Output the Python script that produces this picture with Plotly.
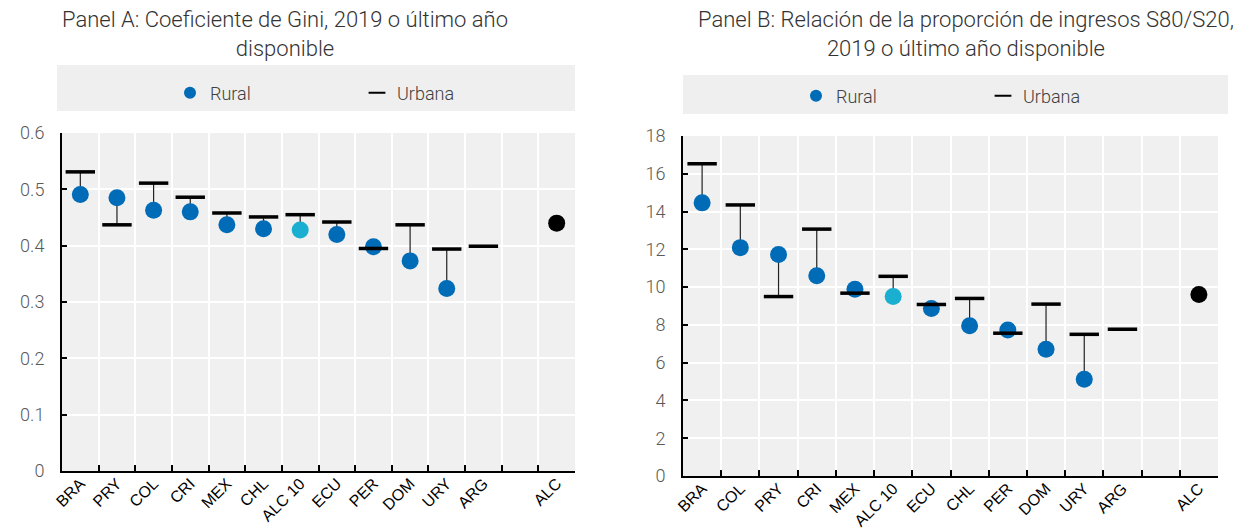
import plotly.graph_objects as go

# ---------------- data ----------------
countries_a = ["BRA", "PRY", "COL", "CRI", "MEX", "CHL", "ALC 10", "ECU", "PER", "DOM", "URY", "ARG", " ", "ALC"]
rural_a = [0.491, 0.485, 0.463, 0.460, 0.437, 0.430, 0.428, 0.420, 0.398, 0.373, 0.324, None, None, 0.440]
urban_a = [0.531, 0.437, 0.511, 0.486, 0.458, 0.451, 0.455, 0.442, 0.395, 0.437, 0.394, 0.399, None, None]

countries_b = ["BRA", "COL", "PRY", "CRI", "MEX", "ALC 10", "ECU", "CHL", "PER", "DOM", "URY", "ARG", " ", "ALC"]
rural_b = [14.46, 12.09, 11.73, 10.60, 9.89, 9.50, 8.87, 7.96, 7.73, 6.71, 5.12, None, None, 9.61]
urban_b = [16.53, 14.35, 9.50, 13.07, 9.68, 10.57, 9.08, 9.40, 7.56, 9.10, 7.50, 7.77, None, None]

title_a = "Panel A: Coeficiente de Gini, 2019 o último año<br>disponible"
title_b = "Panel B: Relación de la proporción de ingresos S80/S20,<br>2019 o último año disponible"

# ---------------- style ----------------
W, H = 1252, 528
BLUE = "#006BB6"
LIGHT = "#1AAFD0"
BLACK = "#000000"
BG = "#F0F0F0"
LIGHT_FONT = "Roboto, Arial, sans-serif"
TICK_FONT = "Liberation Sans, Arial, sans-serif"


def dot_color(c):
    if c == "ALC 10":
        return LIGHT
    if c == "ALC":
        return BLACK
    return BLUE


def px_x(p):
    return p / W


def px_y(p):
    return 1 - p / H


fig = go.Figure()


def add_panel(cats, rural, urban, xa, ya, legend):
    # connectors
    cx, cy = [], []
    for c, r, u in zip(cats, rural, urban):
        if r is not None and u is not None:
            cx += [c, c, None]
            cy += [r, u, None]
    fig.add_trace(go.Scatter(x=cx, y=cy, mode="lines", line=dict(color="#222222", width=1.2),
                             showlegend=False, hoverinfo="skip", xaxis=xa, yaxis=ya))
    fig.add_trace(go.Scatter(x=cats, y=rural, mode="markers", name="Rural",
                             marker=dict(size=17, color=[dot_color(c) for c in cats]),
                             xaxis=xa, yaxis=ya, legend=legend))
    fig.add_trace(go.Scatter(x=cats, y=urban, mode="markers", name="Urbana",
                             marker=dict(symbol="line-ew", size=21, color=BLACK,
                                         line=dict(color=BLACK, width=3.5)),
                             xaxis=xa, yaxis=ya, legend=legend))


add_panel(countries_a, rural_a, urban_a, "x", "y", "legend")
add_panel(countries_b, rural_b, urban_b, "x2", "y2", "legend2")

xcommon = dict(type="category", tickson="boundaries", showgrid=True, gridcolor="white", gridwidth=1.5,
               showline=True, linecolor=BLACK, linewidth=2, ticks="inside", ticklen=6, tickcolor=BLACK,
               tickwidth=1.5, tickangle=-45, tickfont=dict(family=TICK_FONT, size=16, color=BLACK),
               automargin=False, zeroline=False, fixedrange=True, range=[-0.5, 13.5],
               ticklabelstandoff=-5)
ycommon = dict(showgrid=True, gridcolor="white", gridwidth=1.5, showline=True, linecolor=BLACK,
               linewidth=2, ticks="inside", ticklen=5, tickcolor=BLACK, tickwidth=1.5,
               tickfont=dict(family=LIGHT_FONT, size=18, color="#595959", weight=300), automargin=False,
               zeroline=False, fixedrange=True, ticklabelstandoff=12)

legend_common = dict(orientation="h", xanchor="left", yanchor="middle", bgcolor="rgba(0,0,0,0)",
                     entrywidth=142, entrywidthmode="pixels", itemsizing="constant",
                     font=dict(family=LIGHT_FONT, size=18, color="#404040", weight=300))

fig.update_layout(
    width=W, height=H,
    margin=dict(l=0, r=0, t=0, b=0),
    paper_bgcolor="white",
    plot_bgcolor=BG,
    xaxis=dict(xcommon, domain=[px_x(62), px_x(575)], anchor="y",
               categoryorder="array", categoryarray=countries_a),
    yaxis=dict(ycommon, domain=[px_y(471), px_y(133)], anchor="x", range=[0, 0.6], dtick=0.1,
               tickformat=".1~f"),
    xaxis2=dict(xcommon, domain=[px_x(683), px_x(1218)], anchor="y2",
                categoryorder="array", categoryarray=countries_b),
    yaxis2=dict(ycommon, domain=[px_y(476), px_y(136)], anchor="x2", range=[0, 18], dtick=2),
    legend=dict(legend_common, x=px_x(170), y=px_y(93)),
    legend2=dict(legend_common, x=px_x(796), y=px_y(96)),
    shapes=[
        dict(type="rect", xref="paper", yref="paper", x0=px_x(57), x1=px_x(575), y0=px_y(111), y1=px_y(65),
             fillcolor="#EFEFEF", line=dict(width=0), layer="below"),
        dict(type="rect", xref="paper", yref="paper", x0=px_x(683), x1=px_x(1228), y0=px_y(114), y1=px_y(75),
             fillcolor="#EFEFEF", line=dict(width=0), layer="below"),
    ],
    annotations=[
        dict(text=title_a, xref="paper", yref="paper", x=px_x(285), y=px_y(5), xanchor="center",
             yanchor="top", showarrow=False,
             font=dict(family=LIGHT_FONT, size=22, color="#333333", weight=300)),
        dict(text=title_b, xref="paper", yref="paper", x=px_x(966), y=px_y(5), xanchor="center",
             yanchor="top", showarrow=False,
             font=dict(family=LIGHT_FONT, size=22, color="#333333", weight=300)),
    ],
)

fig.write_html("out.html", config={"displayModeBar": False},
               post_script="document.body.style.margin='0px';document.body.style.overflow='hidden';")
